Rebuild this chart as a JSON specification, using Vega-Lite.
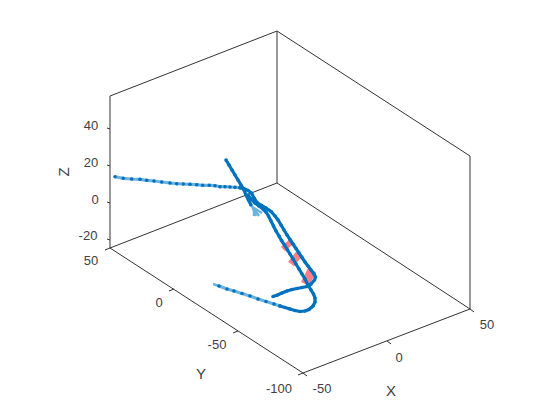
{
"$schema":"https://vega.github.io/schema/vega-lite/v6.json",
"width":560,"height":420,
"autosize":{"type":"fit","contains":"padding"},
"padding":0,
"background":"white",
"config":{"view":{"stroke":null}},
"datasets":{
"frame":[
{"edge":"a","i":0,"u":110,"v":96},{"edge":"a","i":1,"u":110,"v":248},
{"edge":"b","i":0,"u":277,"v":31},{"edge":"b","i":1,"u":277,"v":183},
{"edge":"c","i":0,"u":470,"v":156},{"edge":"c","i":1,"u":470,"v":309},
{"edge":"d","i":0,"u":110,"v":96},{"edge":"d","i":1,"u":277,"v":31},
{"edge":"e","i":0,"u":277,"v":31},{"edge":"e","i":1,"u":470,"v":156},
{"edge":"f","i":0,"u":110,"v":248},{"edge":"f","i":1,"u":277,"v":183},
{"edge":"g","i":0,"u":277,"v":183},{"edge":"g","i":1,"u":470,"v":309},
{"edge":"h","i":0,"u":110,"v":248},{"edge":"h","i":1,"u":303,"v":373},
{"edge":"j","i":0,"u":303,"v":373},{"edge":"j","i":1,"u":470,"v":309},
{"edge":"z40","i":0,"u":110,"v":129},{"edge":"z40","i":1,"u":107,"v":128},
{"edge":"z20","i":0,"u":110,"v":166},{"edge":"z20","i":1,"u":107,"v":165},
{"edge":"z0","i":0,"u":110,"v":203},{"edge":"z0","i":1,"u":107,"v":202},
{"edge":"zm20","i":0,"u":110,"v":240},{"edge":"zm20","i":1,"u":107,"v":239},
{"edge":"y50","i":0,"u":110,"v":248},{"edge":"y50","i":1,"u":105,"v":250},
{"edge":"y0","i":0,"u":174,"v":289},{"edge":"y0","i":1,"u":169,"v":291},
{"edge":"ym50","i":0,"u":238,"v":331},{"edge":"ym50","i":1,"u":233,"v":333},
{"edge":"ym100","i":0,"u":303,"v":373},{"edge":"ym100","i":1,"u":298,"v":375},
{"edge":"xm50","i":0,"u":303,"v":373},{"edge":"xm50","i":1,"u":307,"v":376},
{"edge":"x0","i":0,"u":387,"v":341},{"edge":"x0","i":1,"u":391,"v":344},
{"edge":"x50","i":0,"u":470,"v":309},{"edge":"x50","i":1,"u":474,"v":312}
],
"fray":[
{"s":"t","i":0,"u":222,"v":287},{"s":"t","i":1,"u":213,"v":284},
{"s":"f1","i":0,"u":252,"v":206},{"s":"f1","i":1,"u":256,"v":216},
{"s":"f2","i":0,"u":253,"v":207},{"s":"f2","i":1,"u":259,"v":216},
{"s":"f3","i":0,"u":254,"v":208},{"s":"f3","i":1,"u":262,"v":213},
{"s":"f4","i":0,"u":254,"v":209},{"s":"f4","i":1,"u":254,"v":216}
],
"path":[
{"s":"left","tone":"light","i":0,"u":115,"v":176.7},{"s":"left","tone":"light","i":1,"u":123.3,"v":178.3},{"s":"left","tone":"light","i":2,"u":131.7,"v":179},{"s":"left","tone":"light","i":3,"u":140,"v":179.3},{"s":"left","tone":"light","i":4,"u":146.7,"v":180.3},{"s":"left","tone":"light","i":5,"u":154,"v":181},{"s":"left","tone":"light","i":6,"u":161.7,"v":182},{"s":"left","tone":"light","i":7,"u":170,"v":183},{"s":"left","tone":"light","i":8,"u":176.7,"v":183.7},{"s":"left","tone":"light","i":9,"u":183.3,"v":184},{"s":"left","tone":"light","i":10,"u":190,"v":184.3},{"s":"left","tone":"light","i":11,"u":196.7,"v":184.7},{"s":"left","tone":"light","i":12,"u":202.7,"v":185.3},{"s":"left","tone":"light","i":13,"u":209.3,"v":185.3},{"s":"left","tone":"light","i":14,"u":215,"v":185.7},{"s":"left","tone":"light","i":15,"u":220,"v":186.7},{"s":"left","tone":"light","i":16,"u":225,"v":186.7},{"s":"left","tone":"light","i":17,"u":230,"v":187},{"s":"left","tone":"light","i":18,"u":235,"v":187.3},{"s":"left","tone":"light","i":19,"u":240,"v":187.7},
{"s":"outer","tone":"dark","i":0,"u":240,"v":187.7},{"s":"outer","tone":"dark","i":1,"u":244,"v":188.8},{"s":"outer","tone":"dark","i":2,"u":248,"v":190.5},{"s":"outer","tone":"dark","i":3,"u":251.5,"v":193},{"s":"outer","tone":"dark","i":4,"u":254,"v":198},{"s":"outer","tone":"dark","i":5,"u":257,"v":202.5},{"s":"outer","tone":"dark","i":6,"u":261.5,"v":205.5},{"s":"outer","tone":"dark","i":7,"u":266,"v":208},{"s":"outer","tone":"dark","i":8,"u":271,"v":211.5},{"s":"outer","tone":"dark","i":9,"u":275,"v":216},{"s":"outer","tone":"dark","i":10,"u":278,"v":220},{"s":"outer","tone":"dark","i":11,"u":281,"v":225},{"s":"outer","tone":"dark","i":12,"u":284,"v":230},{"s":"outer","tone":"dark","i":13,"u":287,"v":235},{"s":"outer","tone":"dark","i":14,"u":290,"v":239.5},{"s":"outer","tone":"dark","i":15,"u":293,"v":244},{"s":"outer","tone":"dark","i":16,"u":296,"v":248.5},{"s":"outer","tone":"dark","i":17,"u":299,"v":253},{"s":"outer","tone":"dark","i":18,"u":302,"v":257.5},{"s":"outer","tone":"dark","i":19,"u":305,"v":262},{"s":"outer","tone":"dark","i":20,"u":308,"v":266},{"s":"outer","tone":"dark","i":21,"u":311,"v":270},{"s":"outer","tone":"dark","i":22,"u":314,"v":274},{"s":"outer","tone":"dark","i":23,"u":315.5,"v":277},{"s":"outer","tone":"dark","i":24,"u":314.5,"v":280},{"s":"outer","tone":"dark","i":25,"u":311,"v":284},{"s":"outer","tone":"dark","i":26,"u":307,"v":286.5},{"s":"outer","tone":"dark","i":27,"u":302,"v":287.5},{"s":"outer","tone":"dark","i":28,"u":297,"v":288.5},{"s":"outer","tone":"dark","i":29,"u":292,"v":289.5},{"s":"outer","tone":"dark","i":30,"u":287,"v":291},{"s":"outer","tone":"dark","i":31,"u":282,"v":293},{"s":"outer","tone":"dark","i":32,"u":277.5,"v":295},{"s":"outer","tone":"dark","i":33,"u":273,"v":296.5},
{"s":"inner","tone":"dark","i":0,"u":248,"v":195},{"s":"inner","tone":"dark","i":1,"u":251,"v":199},{"s":"inner","tone":"dark","i":2,"u":255,"v":203},{"s":"inner","tone":"dark","i":3,"u":259,"v":206},{"s":"inner","tone":"dark","i":4,"u":263,"v":209},{"s":"inner","tone":"dark","i":5,"u":266,"v":212},{"s":"inner","tone":"dark","i":6,"u":268.5,"v":216},{"s":"inner","tone":"dark","i":7,"u":271,"v":221},{"s":"inner","tone":"dark","i":8,"u":273.5,"v":226},{"s":"inner","tone":"dark","i":9,"u":276,"v":231},{"s":"inner","tone":"dark","i":10,"u":279,"v":236},{"s":"inner","tone":"dark","i":11,"u":281.5,"v":240.5},{"s":"inner","tone":"dark","i":12,"u":284.5,"v":245},{"s":"inner","tone":"dark","i":13,"u":287.5,"v":250},{"s":"inner","tone":"dark","i":14,"u":290,"v":254},{"s":"inner","tone":"dark","i":15,"u":293,"v":259},{"s":"inner","tone":"dark","i":16,"u":296,"v":264},{"s":"inner","tone":"dark","i":17,"u":299,"v":269},{"s":"inner","tone":"dark","i":18,"u":302,"v":274},{"s":"inner","tone":"dark","i":19,"u":305,"v":279},{"s":"inner","tone":"dark","i":20,"u":308,"v":285},{"s":"inner","tone":"dark","i":21,"u":311,"v":290},{"s":"inner","tone":"dark","i":22,"u":313.5,"v":294},{"s":"inner","tone":"dark","i":23,"u":315,"v":298},{"s":"inner","tone":"dark","i":24,"u":315,"v":302},{"s":"inner","tone":"dark","i":25,"u":313,"v":306},{"s":"inner","tone":"dark","i":26,"u":309,"v":309.5},{"s":"inner","tone":"dark","i":27,"u":305,"v":311},{"s":"inner","tone":"dark","i":28,"u":300,"v":311.5},{"s":"inner","tone":"dark","i":29,"u":295,"v":310.5},{"s":"inner","tone":"dark","i":30,"u":290,"v":309},{"s":"inner","tone":"dark","i":31,"u":285,"v":307.5},{"s":"inner","tone":"dark","i":32,"u":280,"v":306},
{"s":"tail","tone":"light","i":0,"u":280,"v":306},{"s":"tail","tone":"light","i":1,"u":274,"v":304},{"s":"tail","tone":"light","i":2,"u":266,"v":301.5},{"s":"tail","tone":"light","i":3,"u":258,"v":299},{"s":"tail","tone":"light","i":4,"u":250,"v":296},{"s":"tail","tone":"light","i":5,"u":242,"v":293.5},{"s":"tail","tone":"light","i":6,"u":234,"v":291},{"s":"tail","tone":"light","i":7,"u":227,"v":289},{"s":"tail","tone":"light","i":8,"u":219,"v":286},
{"s":"top","tone":"dark","i":0,"u":226,"v":160},{"s":"top","tone":"dark","i":1,"u":229,"v":165},{"s":"top","tone":"dark","i":2,"u":232,"v":170},{"s":"top","tone":"dark","i":3,"u":235,"v":175},{"s":"top","tone":"dark","i":4,"u":238,"v":180},{"s":"top","tone":"dark","i":5,"u":241,"v":185},{"s":"top","tone":"dark","i":6,"u":244,"v":190},{"s":"top","tone":"dark","i":7,"u":246,"v":195},{"s":"top","tone":"dark","i":8,"u":248.5,"v":200},{"s":"top","tone":"dark","i":9,"u":251,"v":205}
],
"patch":[
{"s":"p1","i":0,"u":283,"v":249,"w":"small"},{"s":"p1","i":1,"u":291,"v":242,"w":"small"},
{"s":"p2","i":0,"u":291,"v":264,"w":"mid"},{"s":"p2","i":1,"u":299,"v":254,"w":"mid"},
{"s":"p3","i":0,"u":305,"v":284,"w":"big"},{"s":"p3","i":1,"u":312,"v":270,"w":"big"}
],
"labels":[
{"t":"40","u":91,"v":126},{"t":"20","u":91,"v":163},{"t":"0","u":95,"v":200},{"t":"-20","u":88,"v":236},
{"t":"50","u":91,"v":261},{"t":"0","u":159,"v":303},{"t":"-50","u":217,"v":345},{"t":"-100","u":279,"v":389},
{"t":"-50","u":322,"v":389},{"t":"0","u":399,"v":358},{"t":"50","u":487,"v":325}
],
"titles":[{"t":"X","u":391,"v":391},{"t":"Y","u":201,"v":374}],
"ztitle":[{"t":"Z","u":64,"v":172}]
},
"encoding":{
"x":{"field":"u","type":"quantitative","axis":null,"scale":{"domain":[0,560],"nice":false,"zero":false}},
"y":{"field":"v","type":"quantitative","axis":null,"scale":{"domain":[420,0],"nice":false,"zero":false}}
},
"layer":[
{"data":{"name":"frame"},"mark":{"type":"line","stroke":"#333333","strokeWidth":1,"clip":false},"encoding":{"detail":{"field":"edge"},"order":{"field":"i"}}},
{"data":{"name":"patch"},"mark":{"type":"line","stroke":"#FF7F86","strokeCap":"butt"},"encoding":{"detail":{"field":"s"},"order":{"field":"i"},"strokeWidth":{"field":"w","type":"nominal","legend":null,"scale":{"domain":["small","mid","big"],"range":[6,9,10]}}}},
{"data":{"name":"fray"},"mark":{"type":"line","stroke":"#6CB2E0","strokeWidth":2.4},"encoding":{"detail":{"field":"s"},"order":{"field":"i"}}},
{"data":{"name":"path"},"mark":{"type":"line","strokeWidth":3.2},"encoding":{"detail":{"field":"s"},"order":{"field":"i"},"color":{"field":"tone","type":"nominal","legend":null,"scale":{"domain":["dark","light"],"range":["#0072BD","#6CB2E0"]}}}},
{"data":{"name":"path"},"mark":{"type":"circle","color":"#0072BD","opacity":1,"size":13}},
{"data":{"name":"labels"},"mark":{"type":"text","font":"Liberation Sans","fontSize":13,"color":"#404040","align":"center","baseline":"middle"},"encoding":{"text":{"field":"t"}}},
{"data":{"name":"titles"},"mark":{"type":"text","font":"Liberation Sans","fontSize":15,"color":"#404040","align":"center","baseline":"middle"},"encoding":{"text":{"field":"t"}}},
{"data":{"name":"ztitle"},"mark":{"type":"text","font":"Liberation Sans","fontSize":15,"color":"#404040","align":"center","baseline":"middle","angle":270},"encoding":{"text":{"field":"t"}}}
]
}
